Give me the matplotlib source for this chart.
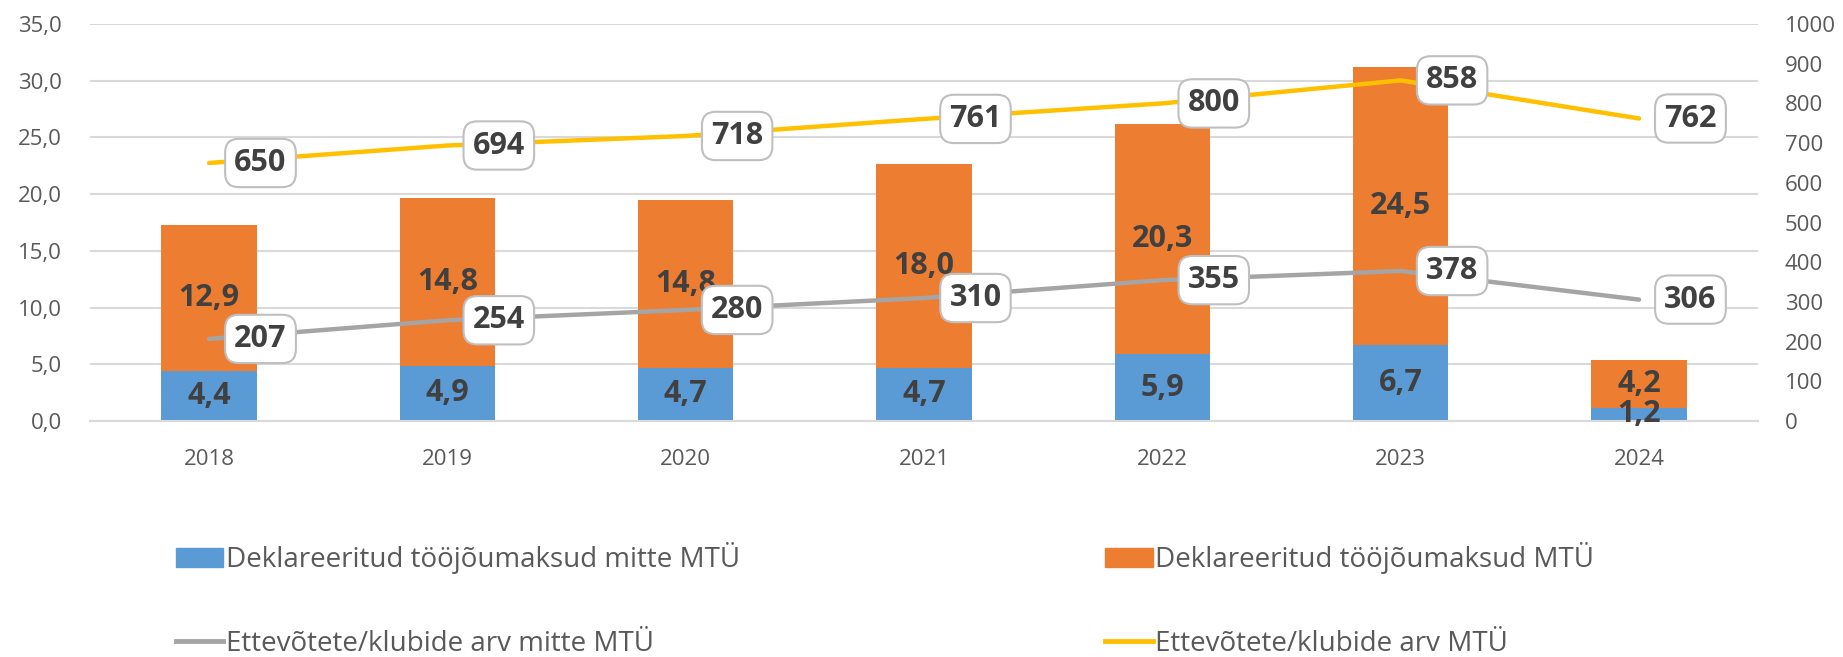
import numpy as np
import matplotlib.pyplot as plt
from matplotlib.ticker import FuncFormatter, MultipleLocator
from matplotlib.lines import Line2D
from matplotlib.patches import Patch

plt.rcParams['font.family'] = ['Open Sans', 'DejaVu Sans']

years = ['2018', '2019', '2020', '2021', '2022', '2023', '2024']
tax_non_ngo = [4.4, 4.9, 4.7, 4.7, 5.9, 6.7, 1.2]
tax_ngo = [12.9, 14.8, 14.8, 18.0, 20.3, 24.5, 4.2]
count_non_ngo = [207, 254, 280, 310, 355, 378, 306]
count_ngo = [650, 694, 718, 761, 800, 858, 762]

blue = '#5B9BD5'
orange = '#ED7D31'
grey = '#A5A5A5'
yellow = '#FFC000'
txt = '#404040'
tick_col = '#595959'
grid_col = '#D9D9D9'

def comma(v, pos=None):
    return f'{v:.1f}'.replace('.', ',')

fig = plt.figure(figsize=(18.43, 6.57), dpi=100)
ax = fig.add_axes([0.0488, 0.359, 0.9052, 0.6045])
ax2 = ax.twinx()

x = np.arange(len(years))
w = 0.4
ax.bar(x, tax_non_ngo, w, color=blue, zorder=2)
ax.bar(x, tax_ngo, w, bottom=tax_non_ngo, color=orange, zorder=2)

# labels inside the stacked bars
for i in range(len(years)):
    ax.text(x[i], tax_non_ngo[i] / 2, comma(tax_non_ngo[i]), ha='center', va='center',
            fontsize=22, fontweight='bold', color=txt, zorder=3)
    ax.text(x[i], tax_non_ngo[i] + tax_ngo[i] / 2, comma(tax_ngo[i]), ha='center', va='center',
            fontsize=22, fontweight='bold', color=txt, zorder=3)

ax.set_ylim(0, 35)
ax.set_xlim(-0.5, len(years) - 0.5)
ax.yaxis.set_major_locator(MultipleLocator(5))
ax.yaxis.set_major_formatter(FuncFormatter(comma))
ax.set_xticks(x)
ax.set_xticklabels(years)
ax.grid(axis='y', color=grid_col, lw=1.5, zorder=0)
ax.set_axisbelow(True)

ax2.plot(x, count_non_ngo, color=grey, lw=3.2, solid_capstyle='round')
ax2.plot(x, count_ngo, color=yellow, lw=3.2, solid_capstyle='round')
ax2.set_ylim(0, 1000)
ax2.yaxis.set_major_locator(MultipleLocator(100))

box = dict(boxstyle='round,pad=0.3,rounding_size=0.45', fc='white', ec='#BFBFBF', lw=1.5)
for series in (count_non_ngo, count_ngo):
    for i, v in enumerate(series):
        ax2.annotate(str(v), (x[i], v), xytext=(37, 0), textcoords='offset points',
                     ha='center', va='center', fontsize=22, fontweight='bold',
                     color=txt, bbox=box)

for a in (ax, ax2):
    for s in a.spines.values():
        s.set_visible(False)
    a.tick_params(length=0, labelsize=16, labelcolor=tick_col)
ax.spines['bottom'].set_visible(True)
ax.spines['bottom'].set_color(grid_col)
ax.spines['bottom'].set_linewidth(1.5)
ax.tick_params(axis='x', pad=20)
ax.tick_params(axis='y', pad=20)
ax2.tick_params(axis='y', pad=19)

handles = [Patch(color=blue), Line2D([], [], color=grey, lw=3.5),
           Patch(color=orange), Line2D([], [], color=yellow, lw=3.5)]
labels = ['Deklareeritud tööjõumaksud mitte MTÜ', 'Ettevõtete/klubide arv mitte MTÜ',
          'Deklareeritud tööjõumaksud MTÜ', 'Ettevõtete/klubide arv MTÜ']
fig.legend(handles, labels, ncol=2, loc='upper left', bbox_to_anchor=(0.0955, 0.175),
           frameon=False, fontsize=20, labelcolor=tick_col, handlelength=1.7,
           handleheight=0.7, handletextpad=0.1, columnspacing=13.15, labelspacing=2.0,
           borderaxespad=0, borderpad=0)

fig.savefig('out.png', dpi=100)
